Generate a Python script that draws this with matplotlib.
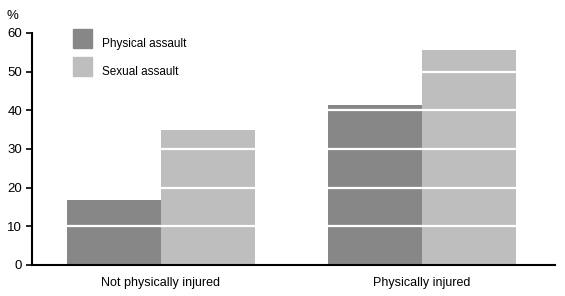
import matplotlib
matplotlib.use("Agg")
import matplotlib.pyplot as plt
from matplotlib.patches import Rectangle
import numpy as np

categories = ["Not physically injured", "Physically injured"]
series_names = ["Physical assault", "Sexual assault"]
physical = [16.7, 41.3]
sexual = [35.0, 55.5]
yticks = [0, 10, 20, 30, 40, 50, 60]

plt.rcParams['font.family'] = ['Liberation Sans', 'DejaVu Sans']
W, H = 565, 296
fig = plt.figure(figsize=(W/100, H/100), dpi=100)
ax = fig.add_axes([0.0566, 0.105, 0.9254, 0.784])

x = np.arange(len(categories))
w = 0.36
c1, c2 = "#878787", "#bebebe"
ax.bar(x - w/2, physical, w, color=c1, zorder=2)
ax.bar(x + w/2, sexual, w, color=c2, zorder=2)

for t in yticks[1:-1]:
    ax.axhline(t, color="white", lw=1.6, zorder=3)

ax.set_xlim(-0.494, 1.51)
ax.set_ylim(0, 60)
ax.set_yticks(yticks)
ax.set_xticks(x)
ax.set_xticklabels(categories, fontsize=9)
ax.tick_params(axis='x', length=0, pad=9)
ax.tick_params(axis='y', length=4, width=1.2, labelsize=9.5, pad=3, colors="black")
for s in ["top", "right"]:
    ax.spines[s].set_visible(False)
ax.spines["left"].set_linewidth(1.5)
ax.spines["bottom"].set_linewidth(1.5)
ax.spines["left"].set_zorder(4)
ax.spines["bottom"].set_zorder(4)

fig.text(0.012, 0.945, "%", fontsize=9.5, ha="left", va="center")

# legend drawn manually (pixel layout from reference)
for i, (name, col) in enumerate(zip(series_names, [c1, c2])):
    top = 29 + i * 28
    fig.patches.append(Rectangle((73 / W, 1 - (top + 19) / H), 19 / W, 19 / H,
                                 transform=fig.transFigure, color=col, figure=fig))
    fig.text(102 / W, 1 - (top + 15) / H, name, fontsize=8.5, ha="left", va="center")

fig.savefig("out.png", dpi=100)
